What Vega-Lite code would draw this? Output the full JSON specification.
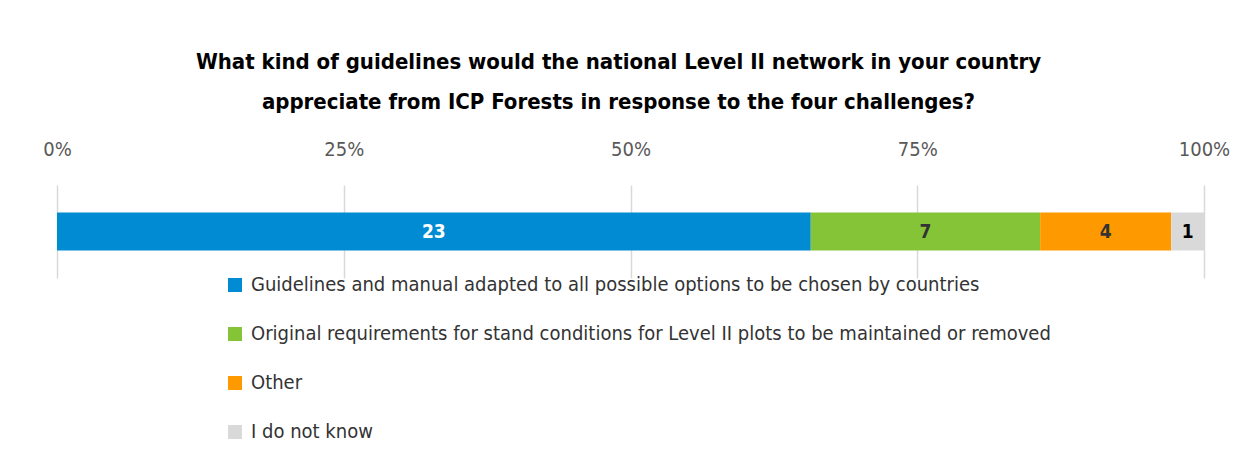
{
  "$schema": "https://vega.github.io/schema/vega-lite/v6.json",
  "autosize": {"type": "none"},
  "width": 1147,
  "height": 93,
  "padding": {"left": 57, "top": 185, "right": 46, "bottom": 179},
  "background": "white",
  "config": {"view": {"stroke": null}},
  "title": {
    "text": ["What kind of guidelines would the national Level II network in your country", "appreciate from ICP Forests in response to the four challenges?"],
    "fontSize": 22,
    "fontWeight": "bold",
    "font": "DejaVu Sans Condensed, sans-serif",
    "color": "#000000",
    "lineHeight": 40,
    "anchor": "middle",
    "dx": -12,
    "offset": 25
  },
  "data": {
    "values": [
      {"answer": "Guidelines and manual adapted to all possible options to be chosen by countries", "count": 23, "question": "Q"},
      {"answer": "Original requirements for stand conditions for Level II plots to be maintained or removed", "count": 7, "question": "Q"},
      {"answer": "Other", "count": 4, "question": "Q"},
      {"answer": "I do not know", "count": 1, "question": "Q"}
    ]
  },
  "transform": [
    {"stack": "count", "groupby": ["question"], "offset": "normalize", "sort": [{"field": "count", "order": "descending"}], "as": ["x0", "x1"]}
  ],
  "encoding": {
    "y": {"field": "question", "type": "nominal", "axis": null}
  },
  "layer": [
    {
      "mark": {"type": "bar", "size": 38},
      "encoding": {
        "x": {
          "field": "x0",
          "type": "quantitative",
          "scale": {"domain": [0, 1], "nice": false},
          "axis": {
            "orient": "top",
            "values": [0, 0.25, 0.5, 0.75, 1],
            "format": ".0%",
            "domain": false,
            "ticks": false,
            "grid": true,
            "gridColor": "#d9d9d9",
            "gridWidth": 1.5,
            "labelFlush": false,
            "labelFont": "DejaVu Sans Condensed, sans-serif",
            "labelFontSize": 20,
            "labelColor": "#595959",
            "labelPadding": 26,
            "title": null
          }
        },
        "x2": {"field": "x1"},
        "color": {
          "field": "answer",
          "type": "nominal",
          "sort": ["Guidelines and manual adapted to all possible options to be chosen by countries", "Original requirements for stand conditions for Level II plots to be maintained or removed", "Other", "I do not know"],
          "scale": {
            "domain": ["Guidelines and manual adapted to all possible options to be chosen by countries", "Original requirements for stand conditions for Level II plots to be maintained or removed", "Other", "I do not know"],
            "range": ["#008BD3", "#85C437", "#FF9900", "#D9D9D9"]
          },
          "legend": {
            "orient": "none",
            "legendX": 168,
            "legendY": 90,
            "direction": "vertical",
            "title": null,
            "symbolType": "square",
            "symbolSize": 196,
            "symbolStrokeWidth": 0,
            "labelFont": "DejaVu Sans Condensed, sans-serif",
            "labelFontSize": 20,
            "labelColor": "#333333",
            "labelLimit": 1000,
            "labelOffset": 6,
            "rowPadding": 29
          }
        }
      }
    },
    {
      "mark": {
        "type": "text",
        "font": "DejaVu Sans Condensed, sans-serif",
        "fontSize": 19,
        "fontWeight": "bold",
        "baseline": "middle",
        "align": "center",
        "dx": {"expr": "(datum.x1 - datum.x0) * width / 2"}
      },
      "encoding": {
        "x": {"field": "x0", "type": "quantitative"},
        "text": {"field": "count", "type": "quantitative"},
        "color": {
          "field": "answer",
          "type": "nominal",
          "scale": {
            "domain": ["Guidelines and manual adapted to all possible options to be chosen by countries", "Original requirements for stand conditions for Level II plots to be maintained or removed", "Other", "I do not know"],
            "range": ["#FFFFFF", "#333333", "#333333", "#000000"]
          },
          "legend": null
        }
      }
    }
  ],
  "resolve": {"scale": {"color": "independent"}}
}
